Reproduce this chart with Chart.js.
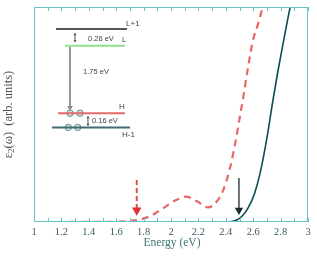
<!DOCTYPE html>
<html><head><meta charset="utf-8">
<script src="https://cdn.jsdelivr.net/npm/chart.js@4"></script>
<style>html,body{margin:0;padding:0;background:#fff}#wrap{width:317px;height:256px;position:relative}</style>
</head><body><div id="wrap"><canvas id="c"></canvas></div>
<script>
// ---- data ----
const dashedEnergy = [1.0,1.6,1.66,1.72,1.77,1.85,1.94,2.03,2.11,2.19,2.27,2.33,2.38,2.43,2.47,2.50,2.53,2.56,2.60,2.63,2.67,2.70];
const dashedEps    = [0,0.1,0.3,0.6,1.1,2.8,6.3,10.0,11.8,9.6,6.8,9.2,14.6,25,37,48,59,71,85,91,100,107];
const solidEnergy  = [1.0,2.40,2.44,2.48,2.52,2.56,2.61,2.65,2.70,2.74,2.78,2.83,2.87,2.90];
const solidEps     = [0,0,0.2,0.9,2.8,6.2,13.3,22.6,39,55,70,87,100,108];
const redArrowE = [1.75,1.75],  redArrowY = [19.5,5.5];
const blackArrowE = [2.496,2.496], blackArrowY = [20.5,5.5];
// inset level diagram (energy-axis units / arb. units)
const levelNames = ['L+1','L','H','H-1'];
const levelStart = [1.161,1.226,1.175,1.131];
const levelEnd   = [1.679,1.664,1.664,1.701];
const levelY     = [89.8,82.0,50.6,44.0];
const electronE = [1.263,1.336,1.250,1.319];
const electronY = [50.6,50.6,44.0,44.0];
const gapArrowE = [1.263,1.263], gapArrowY = [81.4,53.2];
const xTickValues = [1,1.2,1.4,1.6,1.8,2,2.2,2.4,2.6,2.8,3];

const pts = (xs,ys)=>xs.map((x,i)=>({x, y: ys[i]}));
const levelColors = ['#555555','#8ee08a','#e46a6a','#3f6f70'];

const datasets = [
  {data: pts(dashedEnergy,dashedEps), borderColor:'#e66868', borderWidth:2.2, borderDash:[7,5], pointRadius:0, cubicInterpolationMode:'monotone'},
  {data: pts(solidEnergy,solidEps), borderColor:'#0b4f52', borderWidth:1.6, pointRadius:0, cubicInterpolationMode:'monotone'},
  {data: pts(redArrowE,redArrowY), borderColor:'#e05050', borderWidth:2, borderDash:[5,3], pointRadius:[0,3.5], pointStyle:'triangle', rotation:180, pointBackgroundColor:'#e03030', pointBorderColor:'#e03030'},
  {data: pts(blackArrowE,blackArrowY), borderColor:'#1a2a2a', borderWidth:1.3, pointRadius:[0,3.5], pointStyle:'triangle', rotation:180, pointBackgroundColor:'#1a2a2a', pointBorderColor:'#1a2a2a'},
  {data: pts(gapArrowE,gapArrowY), borderColor:'#8a8a8a', borderWidth:1, pointRadius:[0,2.5], pointStyle:'triangle', rotation:180, pointBackgroundColor:'#8a8a8a', pointBorderColor:'#8a8a8a'},
];
levelNames.forEach((n,i)=>{
  datasets.push({data: pts([levelStart[i],levelEnd[i]],[levelY[i],levelY[i]]), borderColor: levelColors[i], borderWidth:2, pointRadius:0});
});
datasets.push({type:'scatter', data: pts(electronE,electronY), pointRadius:3.2, pointStyle:'circle', backgroundColor:'#cfe6e6', borderColor:'#5f8d8d', borderWidth:1, showLine:false});

const frameColor = '#62c6c8';

const decor = {
  id:'decor',
  afterDatasetsDraw(chart){
    const {ctx, chartArea:a, scales:{x,y}} = chart;
    ctx.save();
    // frame
    ctx.strokeStyle = frameColor; ctx.lineWidth = 1;
    ctx.strokeRect(a.left+0.5, a.top+0.5, a.right-a.left-1, a.bottom-a.top-1);
    // inward ticks every 0.1 eV
    for (let k=0;k<=20;k++){
      const px = Math.round(x.getPixelForValue(1+k*0.1))+0.5;
      ctx.beginPath();
      ctx.moveTo(px,a.top); ctx.lineTo(px,a.top+4);
      ctx.moveTo(px,a.bottom); ctx.lineTo(px,a.bottom-4);
      ctx.stroke();
    }
    // inset text
    const txt = (s,e,v,size)=>{ctx.font = size+'px "Liberation Sans", Arial, sans-serif'; ctx.fillStyle='#444'; ctx.textAlign='left'; ctx.textBaseline='middle'; ctx.fillText(s, x.getPixelForValue(e), y.getPixelForValue(v));};
    txt('L+1',1.672,92.1,8);
    txt('0.26 eV',1.394,85.1,7.5);
    txt('L',1.642,84.7,7.5);
    txt('1.75 eV',1.358,69.8,7.5);
    txt('H',1.620,53.8,8);
    txt('0.16 eV',1.423,47.2,7.5);
    txt('H-1',1.642,40.6,8);
    // small double arrows
    const dbl = (e,v1,v2)=>{
      const px = x.getPixelForValue(e), p1 = y.getPixelForValue(v1), p2 = y.getPixelForValue(v2);
      ctx.strokeStyle='#555'; ctx.fillStyle='#555'; ctx.lineWidth=1;
      ctx.beginPath(); ctx.moveTo(px,p1); ctx.lineTo(px,p2); ctx.stroke();
      ctx.beginPath(); ctx.moveTo(px,p1-1); ctx.lineTo(px-1.5,p1+1.5); ctx.lineTo(px+1.5,p1+1.5); ctx.fill();
      ctx.beginPath(); ctx.moveTo(px,p2+1); ctx.lineTo(px-1.5,p2-1.5); ctx.lineTo(px+1.5,p2-1.5); ctx.fill();
    };
    dbl(1.299,87.6,84.0);
    dbl(1.394,48.9,45.0);
    ctx.restore();
  },
  afterDraw(chart){
    const {ctx, chartArea:a} = chart;
    ctx.save();
    // y-axis title with subscript
    ctx.translate(9, (a.top+a.bottom)/2);
    ctx.rotate(-Math.PI/2);
    ctx.fillStyle = '#5a4a55';
    ctx.textBaseline = 'middle';
    const big = '12.5px "Liberation Serif", "Times New Roman", serif';
    const small = '9px "Liberation Serif", "Times New Roman", serif';
    const parts = [['ε',big,0],['2',small,3],['(ω)  (arb. units)',big,0]];
    let w = 0;
    parts.forEach(p=>{ctx.font=p[1]; w += ctx.measureText(p[0]).width;});
    let cx = -w/2;
    parts.forEach(p=>{ctx.font=p[1]; ctx.fillText(p[0], cx, p[2]); cx += ctx.measureText(p[0]).width;});
    ctx.restore();
    // x-axis title
    ctx.save();
    ctx.font = '11.5px "Liberation Serif", "Times New Roman", serif';
    ctx.fillStyle = '#3d7478'; ctx.textAlign='center'; ctx.textBaseline='middle';
    ctx.fillText('Energy (eV)', (a.left+a.right)/2+1, 243);
    ctx.restore();
  }
};

new Chart(document.getElementById('c'), {
  type:'line',
  data:{datasets},
  options:{
    responsive:true, maintainAspectRatio:false, animation:false,
    layout:{padding:{left:34,right:9,top:7,bottom:0}},
    plugins:{legend:{display:false}, tooltip:{enabled:false}},
    scales:{
      x:{type:'linear', min:1, max:3,
         afterBuildTicks: s => { s.ticks = xTickValues.map(v=>({value:v})); },
         afterFit: s => { s.height = 34; },
         grid:{display:false, drawTicks:false},
         border:{display:false},
         ticks:{padding:4, color:'#3b5a68', font:{family:'"Liberation Serif", "Times New Roman", serif', size:10.5},
                callback: v => String(Number(v.toFixed(1))), autoSkip:false, maxRotation:0}},
      y:{type:'linear', min:0, max:100, display:false}
    }
  },
  plugins:[decor]
});
</script>
</body></html>
